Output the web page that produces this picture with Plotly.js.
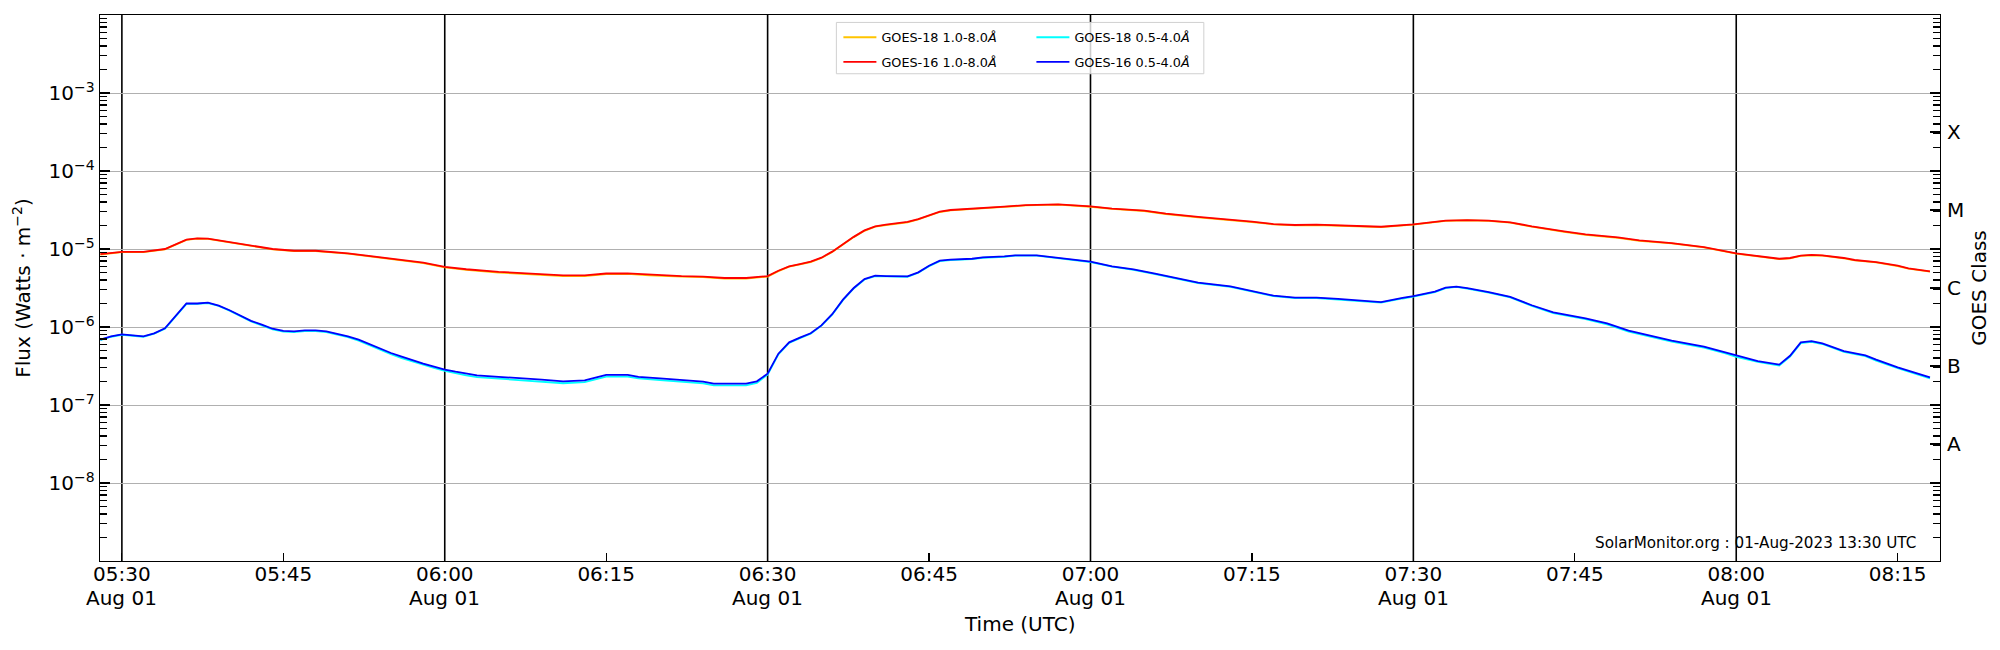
<!DOCTYPE html>
<html>
<head>
<meta charset="utf-8">
<script src="https://cdn.plot.ly/plotly-3.0.1.min.js"></script>
<style>
  body { margin: 0; background: #fff; }
  #goesPlot { width: 2000px; height: 650px; }
</style>
</head>
<body>
<div id="goesPlot"></div>
<script>
const day = '2023-08-01 ';

// 1.0-8.0 A channel
const longTimes = [
  '05:28', '05:30', '05:32', '05:34', '05:36', '05:37', '05:38', '05:40', '05:42', '05:44',
  '05:46', '05:48', '05:51', '05:54', '05:56', '05:58', '06:00', '06:02', '06:05', '06:08',
  '06:11', '06:13', '06:15', '06:17', '06:19', '06:22', '06:24', '06:26', '06:28', '06:30',
  '06:31', '06:32', '06:33', '06:34', '06:35', '06:36', '06:37', '06:38', '06:39', '06:40',
  '06:41', '06:42', '06:43', '06:44', '06:45', '06:46', '06:47', '06:49', '06:50', '06:52',
  '06:54', '06:57', '07:00', '07:02', '07:05', '07:07', '07:10', '07:13', '07:15', '07:17',
  '07:19', '07:21', '07:24', '07:27', '07:30', '07:33', '07:35', '07:37', '07:39', '07:41',
  '07:44', '07:46', '07:49', '07:51', '07:54', '07:57', '08:00', '08:02', '08:04', '08:05',
  '08:06', '08:07', '08:08', '08:10', '08:11', '08:13', '08:15', '08:16', '08:18'
];
const goes16Long = [
  8.6e-6, 9.2e-6, 9.2e-6, 1.0e-5, 1.32e-5, 1.37e-5, 1.36e-5, 1.22e-5, 1.1e-5, 1.0e-5,
  9.5e-6, 9.5e-6, 8.8e-6, 7.9e-6, 7.2e-6, 6.7e-6, 5.9e-6, 5.5e-6, 5.1e-6, 4.8e-6,
  4.6e-6, 4.6e-6, 4.85e-6, 4.88e-6, 4.69e-6, 4.5e-6, 4.42e-6, 4.25e-6, 4.25e-6, 4.5e-6,
  5.27e-6, 6.0e-6, 6.42e-6, 6.88e-6, 7.74e-6, 9.25e-6, 1.15e-5, 1.43e-5, 1.73e-5, 1.95e-5,
  2.05e-5, 2.13e-5, 2.22e-5, 2.42e-5, 2.73e-5, 3.01e-5, 3.16e-5, 3.26e-5, 3.36e-5, 3.49e-5,
  3.66e-5, 3.74e-5, 3.52e-5, 3.29e-5, 3.1e-5, 2.84e-5, 2.58e-5, 2.4e-5, 2.24e-5, 2.09e-5,
  2.03e-5, 2.05e-5, 2.01e-5, 1.93e-5, 2.07e-5, 2.31e-5, 2.35e-5, 2.31e-5, 2.2e-5, 1.95e-5,
  1.68e-5, 1.54e-5, 1.41e-5, 1.29e-5, 1.19e-5, 1.06e-5, 8.8e-6, 8.13e-6, 7.5e-6, 7.67e-6,
  8.22e-6, 8.4e-6, 8.3e-6, 7.67e-6, 7.23e-6, 6.8e-6, 6.11e-6, 5.65e-6, 5.17e-6
];
const goes18Long = [
  8.5e-6, 9.1e-6, 9.1e-6, 9.9e-6, 1.31e-5, 1.36e-5, 1.35e-5, 1.21e-5, 1.09e-5, 9.9e-6,
  9.4e-6, 9.4e-6, 8.7e-6, 7.8e-6, 7.1e-6, 6.6e-6, 5.8e-6, 5.4e-6, 5.0e-6, 4.7e-6,
  4.5e-6, 4.5e-6, 4.75e-6, 4.8e-6, 4.6e-6, 4.42e-6, 4.35e-6, 4.18e-6, 4.18e-6, 4.43e-6,
  5.2e-6, 5.93e-6, 6.35e-6, 6.8e-6, 7.66e-6, 9.15e-6, 1.14e-5, 1.42e-5, 1.71e-5, 1.93e-5,
  2.03e-5, 2.11e-5, 2.2e-5, 2.4e-5, 2.7e-5, 2.98e-5, 3.13e-5, 3.23e-5, 3.33e-5, 3.46e-5,
  3.62e-5, 3.7e-5, 3.48e-5, 3.26e-5, 3.07e-5, 2.81e-5, 2.55e-5, 2.37e-5, 2.21e-5, 2.07e-5,
  2.01e-5, 2.03e-5, 1.99e-5, 1.91e-5, 2.05e-5, 2.29e-5, 2.33e-5, 2.29e-5, 2.18e-5, 1.93e-5,
  1.66e-5, 1.52e-5, 1.39e-5, 1.27e-5, 1.18e-5, 1.05e-5, 8.7e-6, 8.05e-6, 7.42e-6, 7.6e-6,
  8.14e-6, 8.32e-6, 8.22e-6, 7.6e-6, 7.15e-6, 6.73e-6, 6.05e-6, 5.59e-6, 5.12e-6
];

// 0.5-4.0 A channel
const shortTimes = [
  '05:28', '05:29', '05:30', '05:31', '05:32', '05:33', '05:34', '05:36', '05:37', '05:38',
  '05:39', '05:40', '05:41', '05:42', '05:43', '05:44', '05:45', '05:46', '05:47', '05:48',
  '05:49', '05:50', '05:51', '05:52', '05:53', '05:54', '05:55', '05:56', '05:57', '05:58',
  '05:59', '06:00', '06:01', '06:02', '06:03', '06:05', '06:07', '06:09', '06:11', '06:13',
  '06:14', '06:15', '06:17', '06:18', '06:20', '06:22', '06:24', '06:25', '06:27', '06:28',
  '06:29', '06:30', '06:31', '06:32', '06:33', '06:34', '06:35', '06:36', '06:37', '06:38',
  '06:39', '06:40', '06:41', '06:42', '06:43', '06:44', '06:45', '06:46', '06:47', '06:49',
  '06:50', '06:52', '06:53', '06:55', '06:56', '06:58', '07:00', '07:02', '07:04', '07:06',
  '07:08', '07:10', '07:13', '07:15', '07:17', '07:19', '07:21', '07:23', '07:25', '07:27',
  '07:29', '07:30', '07:32', '07:33', '07:34', '07:35', '07:37', '07:39', '07:41', '07:43',
  '07:46', '07:48', '07:50', '07:52', '07:54', '07:57', '07:59', '08:00', '08:02', '08:04',
  '08:05', '08:06', '08:07', '08:08', '08:10', '08:12', '08:13', '08:15', '08:16', '08:18'
];
const goes16Short = [
  6.9e-7, 7.6e-7, 8.05e-7, 7.74e-7, 7.6e-7, 8.3e-7, 9.6e-7, 2.0e-6, 2.0e-6, 2.05e-6,
  1.88e-6, 1.64e-6, 1.41e-6, 1.2e-6, 1.07e-6, 9.5e-7, 8.9e-7, 8.8e-7, 9.06e-7, 9.06e-7,
  8.8e-7, 8.2e-7, 7.6e-7, 6.9e-7, 6.05e-7, 5.3e-7, 4.64e-7, 4.17e-7, 3.74e-7, 3.39e-7,
  3.1e-7, 2.84e-7, 2.67e-7, 2.52e-7, 2.4e-7, 2.3e-7, 2.22e-7, 2.11e-7, 2.01e-7, 2.07e-7,
  2.24e-7, 2.43e-7, 2.43e-7, 2.3e-7, 2.2e-7, 2.09e-7, 2.0e-7, 1.88e-7, 1.86e-7, 1.88e-7,
  2.01e-7, 2.52e-7, 4.55e-7, 6.36e-7, 7.3e-7, 8.3e-7, 1.05e-6, 1.46e-6, 2.24e-6, 3.16e-6,
  4.12e-6, 4.55e-6, 4.5e-6, 4.46e-6, 4.46e-6, 5.02e-6, 6.1e-6, 7.08e-6, 7.3e-6, 7.5e-6,
  7.8e-6, 8.05e-6, 8.3e-6, 8.3e-6, 7.97e-6, 7.38e-6, 6.88e-6, 6.0e-6, 5.48e-6, 4.83e-6,
  4.25e-6, 3.7e-6, 3.32e-6, 2.9e-6, 2.52e-6, 2.38e-6, 2.38e-6, 2.29e-6, 2.18e-6, 2.09e-6,
  2.36e-6, 2.49e-6, 2.84e-6, 3.19e-6, 3.3e-6, 3.15e-6, 2.8e-6, 2.43e-6, 1.9e-6, 1.54e-6,
  1.29e-6, 1.11e-6, 8.97e-7, 7.74e-7, 6.68e-7, 5.6e-7, 4.73e-7, 4.25e-7, 3.66e-7, 3.29e-7,
  4.28e-7, 6.35e-7, 6.6e-7, 6.17e-7, 4.92e-7, 4.33e-7, 3.81e-7, 3.04e-7, 2.75e-7, 2.26e-7
];
const goes18Short = [
  6.8e-7, 7.5e-7, 7.95e-7, 7.65e-7, 7.5e-7, 8.2e-7, 9.5e-7, 1.98e-6, 1.98e-6, 2.03e-6,
  1.86e-6, 1.62e-6, 1.39e-6, 1.18e-6, 1.05e-6, 9.3e-7, 8.7e-7, 8.6e-7, 8.85e-7, 8.85e-7,
  8.6e-7, 8.0e-7, 7.4e-7, 6.7e-7, 5.85e-7, 5.1e-7, 4.47e-7, 4.0e-7, 3.6e-7, 3.26e-7,
  2.98e-7, 2.73e-7, 2.55e-7, 2.4e-7, 2.28e-7, 2.18e-7, 2.1e-7, 1.99e-7, 1.9e-7, 1.96e-7,
  2.13e-7, 2.31e-7, 2.31e-7, 2.19e-7, 2.09e-7, 1.98e-7, 1.89e-7, 1.78e-7, 1.76e-7, 1.78e-7,
  1.92e-7, 2.45e-7, 4.45e-7, 6.25e-7, 7.2e-7, 8.2e-7, 1.04e-6, 1.44e-6, 2.21e-6, 3.12e-6,
  4.07e-6, 4.5e-6, 4.45e-6, 4.41e-6, 4.41e-6, 4.96e-6, 6.03e-6, 7.0e-6, 7.22e-6, 7.42e-6,
  7.72e-6, 7.96e-6, 8.2e-6, 8.2e-6, 7.88e-6, 7.29e-6, 6.8e-6, 5.93e-6, 5.41e-6, 4.77e-6,
  4.2e-6, 3.65e-6, 3.27e-6, 2.86e-6, 2.48e-6, 2.34e-6, 2.34e-6, 2.25e-6, 2.14e-6, 2.05e-6,
  2.32e-6, 2.45e-6, 2.8e-6, 3.15e-6, 3.26e-6, 3.11e-6, 2.76e-6, 2.39e-6, 1.87e-6, 1.51e-6,
  1.26e-6, 1.08e-6, 8.75e-7, 7.55e-7, 6.5e-7, 5.45e-7, 4.6e-7, 4.13e-7, 3.56e-7, 3.2e-7,
  4.18e-7, 6.22e-7, 6.47e-7, 6.05e-7, 4.8e-7, 4.22e-7, 3.71e-7, 2.96e-7, 2.67e-7, 2.19e-7
];

const xTickTimes = ['05:30', '05:45', '06:00', '06:15', '06:30', '06:45', '07:00', '07:15', '07:30', '07:45', '08:00', '08:15'];
const halfHourLines = ['05:30', '06:00', '06:30', '07:00', '07:30', '08:00'];
const dateLabel = 'Aug 01';
const fluxExponents = [-8, -7, -6, -5, -4, -3];
const classLabels = ['A', 'B', 'C', 'M', 'X'];
const classExponents = [-7.5, -6.5, -5.5, -4.5, -3.5];

const stamp = 'SolarMonitor.org : 01-Aug-2023 13:30 UTC';

function toDate(t) {
  return day + t;
}

// minor log ticks 2..9 for every decade
const minorFlux = [];
for (let e = -9; e < -2; e++) {
  for (let k = 2; k <= 9; k++) {
    minorFlux.push(k * Math.pow(10, e));
  }
}

function series(times, values, name, color, legend) {
  return {
    x: times.map(toDate), y: values,
    type: 'scatter', mode: 'lines', name: name,
    line: { color: color, width: 1.8 },
    legend: legend, legendgroup: name
  };
}

// empty traces so the extra y axes get drawn
function axisHolder(axisId) {
  return {
    x: [toDate('05:30'), toDate('05:31')], y: [null, null],
    type: 'scatter', mode: 'lines', yaxis: axisId,
    showlegend: false, hoverinfo: 'skip'
  };
}

const data = [
  series(longTimes, goes18Long, 'GOES-18 1.0-8.0<i>Å</i>', '#ffc400', 'legend'),
  series(longTimes, goes16Long, 'GOES-16 1.0-8.0<i>Å</i>', '#ff0000', 'legend'),
  series(shortTimes, goes18Short, 'GOES-18 0.5-4.0<i>Å</i>', '#00ffff', 'legend2'),
  series(shortTimes, goes16Short, 'GOES-16 0.5-4.0<i>Å</i>', '#0000ff', 'legend2'),
  axisHolder('y2'),
  axisHolder('y3'),
  axisHolder('y4')
];

const legendStyle = {
  xanchor: 'left', y: 0.9864, yanchor: 'top',
  bgcolor: 'rgba(0,0,0,0)', borderwidth: 0,
  font: { family: 'DejaVu Sans', size: 12.8, color: 'black' },
  itemwidth: 33,
  tracegroupgap: 5, traceorder: 'grouped'
};

const shapes = halfHourLines.map(t => ({
  type: 'line', xref: 'x', yref: 'paper',
  x0: toDate(t), x1: toDate(t), y0: 0, y1: 1,
  layer: 'between',
  line: { color: 'black', width: 1.6 }
}));
// frame behind the two legend columns
shapes.push({
  type: 'rect', xref: 'paper', yref: 'paper',
  x0: 0.4002, x1: 0.5999, y0: 0.8924, y1: 0.9864,
  layer: 'above',
  fillcolor: 'rgba(255,255,255,0.8)',
  line: { color: '#d0d0d0', width: 1 }
});

const minorAxis = {
  type: 'log',
  range: [-9, -2],
  overlaying: 'y',
  tickmode: 'array',
  tickvals: minorFlux,
  showticklabels: false,
  ticks: 'inside', ticklen: 7, tickwidth: 1.2, tickcolor: 'black',
  showgrid: false, zeroline: false, showline: false
};

// second line of the time labels, under every half hour
const annotations = halfHourLines.map(t => ({
  text: dateLabel,
  xref: 'x', yref: 'paper',
  x: toDate(t), xanchor: 'center',
  y: -0.0678, yanchor: 'middle',
  showarrow: false,
  font: { family: 'DejaVu Sans', size: 20, color: 'black' }
}));
annotations.push({
  text: 'Time (UTC)',
  xref: 'paper', yref: 'paper',
  x: 0.5, xanchor: 'center',
  y: -0.1145, yanchor: 'middle',
  showarrow: false,
  font: { family: 'DejaVu Sans', size: 20, color: 'black' }
});
annotations.push({
  text: stamp,
  xref: 'paper', yref: 'paper',
  x: 0.9878, xanchor: 'right',
  y: 0.033, yanchor: 'middle',
  showarrow: false,
  font: { family: 'DejaVu Sans', size: 15.2, color: 'black' }
});

const layout = {
  width: 2000,
  height: 650,
  margin: { l: 100, r: 60, t: 15, b: 89 },
  paper_bgcolor: 'white',
  plot_bgcolor: 'white',
  font: { family: 'DejaVu Sans', size: 20, color: 'black' },
  showlegend: true,
  xaxis: {
    type: 'date',
    range: [toDate('05:27:58'), toDate('08:18:56')],
    tickmode: 'array',
    tickvals: xTickTimes.map(toDate),
    ticktext: xTickTimes,
    ticks: 'inside', ticklen: 8, tickwidth: 1.2, tickcolor: 'black',
    tickfont: { size: 20 },
    ticklabelstandoff: -5,
    showline: true, linecolor: 'black', linewidth: 1.3, mirror: true,
    showgrid: false, zeroline: false
  },
  yaxis: {
    type: 'log',
    range: [-9, -2],
    tickmode: 'array',
    tickvals: fluxExponents.map(e => Math.pow(10, e)),
    ticktext: fluxExponents.map(e => '10<sup>\u2212' + Math.abs(e) + '</sup>'),
    ticks: 'inside', ticklen: 10, tickwidth: 1.2, tickcolor: 'black',
    tickfont: { size: 20 },
    showline: true, linecolor: 'black', linewidth: 1.3, mirror: 'ticks',
    showgrid: true, gridcolor: '#b0b0b0', gridwidth: 1,
    zeroline: false,
    title: { text: 'Flux (Watts \u00b7 m<sup>\u22122</sup>)', font: { size: 20 }, standoff: 12 }
  },
  yaxis2: {
    type: 'log',
    range: [-9, -2],
    overlaying: 'y',
    side: 'right',
    tickmode: 'array',
    tickvals: classExponents.map(e => Math.pow(10, e)),
    ticktext: classLabels,
    ticks: 'inside', ticklen: 10, tickwidth: 1.2, tickcolor: 'black',
    tickfont: { size: 20 },
    ticklabelstandoff: 6,
    showgrid: false, zeroline: false, showline: false,
    title: { text: 'GOES Class', font: { size: 20 }, standoff: 8 }
  },
  yaxis3: Object.assign({ side: 'left' }, minorAxis),
  yaxis4: Object.assign({ side: 'right' }, minorAxis),
  legend: Object.assign({ x: 0.4013 }, legendStyle),
  legend2: Object.assign({ x: 0.5062 }, legendStyle),
  shapes: shapes,
  annotations: annotations
};

Plotly.newPlot('goesPlot', data, layout, { staticPlot: true });
</script>
</body>
</html>
